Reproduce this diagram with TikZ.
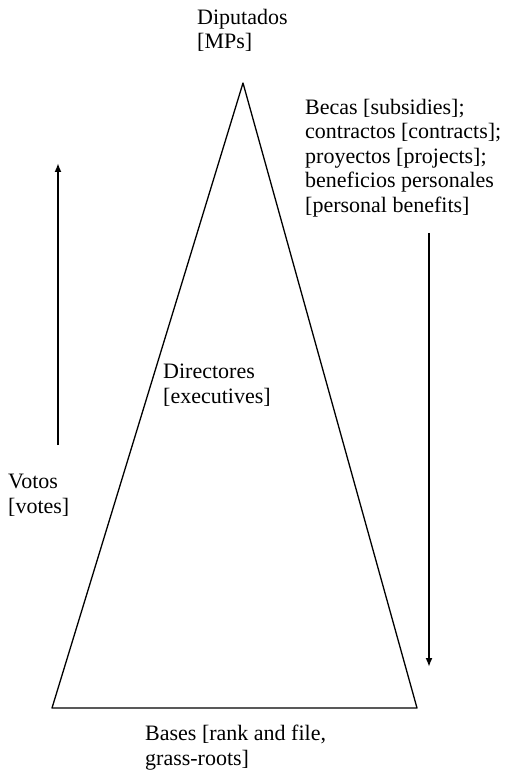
\documentclass[tikz,border=0pt]{standalone}
\usepackage{fontspec}
\setmainfont{Liberation Serif}
\usetikzlibrary{arrows.meta}
\tikzset{lbl/.style={align=left, anchor=north west, inner sep=0, font=\fontsize{22}{24.5}\selectfont}}

\begin{document}
\begin{tikzpicture}[x=1pt,y=-1pt]
\useasboundingbox (0,0) rectangle (522,775);
%\draw (0,0) rectangle (522,775);
\draw[line width=1.3pt, line join=round] (243,83) -- (52,708) -- (417,708) -- cycle;

\node[lbl] (mps) at (197,9) {Diputados\\\relax [MPs]};
\node[lbl] (becas) at (305,99) {Becas [subsidies];\\contractos [contracts];\\proyectos [projects];\\beneficios personales\\\relax [personal benefits]};
\node[lbl] (dir) at (163,364) {Directores\\\relax [executives]};
\node[lbl] (votos) at (8,474) {Votos\\\relax [votes]};
\node[lbl] (bases) at (145,725) {Bases [rank and file,\\grass-roots]};

\coordinate (vb) at (58,445);
\coordinate (vt) at (58,163);
\coordinate (bt) at (429,233);
\coordinate (bb) at (429,667);
\draw[line width=1.8pt, -{Latex[length=9pt,width=7pt]}] (vb) -- (vt);
\draw[line width=1.8pt, -{Latex[length=9pt,width=7pt]}] (bt) -- (bb);

\end{tikzpicture}
\end{document}
